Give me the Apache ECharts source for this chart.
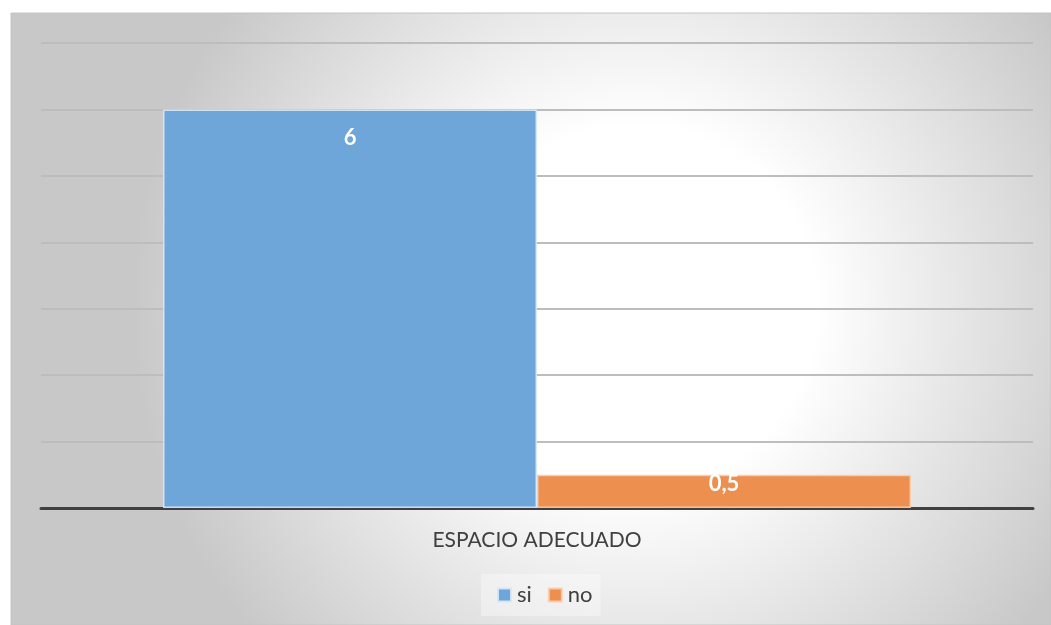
<!DOCTYPE html>
<html>
<head>
<meta charset="utf-8">
<script src="https://cdn.jsdelivr.net/npm/echarts@6/dist/echarts.min.js"></script>
<style>
  html, body { margin: 0; padding: 0; background: #ffffff; }
  #chart { width: 1051px; height: 625px; }
</style>
</head>
<body>
<div id="chart"></div>
<script>
// Survey result: adequate space (si / no)
const categories = ['ESPACIO ADECUADO'];
const seriesNames = ['si', 'no'];
const siValues = [6];
const noValues = [0.5];
const yTicks = [0, 1, 2, 3, 4, 5, 6, 7];

const fontFamily = 'Lato, "Open Sans", "Liberation Sans", sans-serif';
const fmt = v => String(v).replace('.', ',');

const chart = echarts.init(document.getElementById('chart'), null, { renderer: 'canvas' });

chart.setOption({
  animation: false,
  graphic: [{
    type: 'rect',
    z: -10,
    silent: true,
    shape: { x: 11, y: 13, width: 1040, height: 612 },
    style: {
      fill: {
        type: 'radial',
        x: 0.6, y: 0.48, r: 0.82,
        colorStops: [
          { offset: 0, color: '#ffffff' },
          { offset: 0.36, color: '#ffffff' },
          { offset: 1, color: '#c8c8c8' }
        ]
      },
      stroke: '#c4c4c4',
      lineWidth: 1
    }
  }],
  grid: { left: 41, right: 18, top: 43, bottom: 117, containLabel: false },
  legend: {
    data: seriesNames,
    bottom: 9,
    left: 481,
    icon: 'rect',
    itemWidth: 13,
    itemHeight: 13,
    itemGap: 16,
    padding: [10, 8, 10, 16],
    backgroundColor: 'rgba(255,255,255,0.35)',
    textStyle: { color: '#404040', fontSize: 22, fontFamily: fontFamily, padding: [0, 0, 0, 1] }
  },
  xAxis: {
    type: 'category',
    data: categories,
    axisLine: { show: true, lineStyle: { color: '#404040', width: 3 } },
    axisTick: { show: false },
    axisLabel: { color: '#404040', fontSize: 21, fontFamily: fontFamily, margin: 22 },
    splitLine: { show: false }
  },
  yAxis: {
    type: 'value',
    min: yTicks[0],
    max: yTicks[yTicks.length - 1],
    interval: 1,
    axisLine: { show: false },
    axisTick: { show: false },
    axisLabel: { show: false },
    splitLine: { show: true, lineStyle: { color: '#bdbdbd', width: 2 } }
  },
  series: [
    {
      name: seriesNames[0],
      type: 'bar',
      data: siValues,
      barGap: '0%',
      barCategoryGap: '24.6%',
      itemStyle: { color: '#6fa6d9', borderColor: 'rgba(215,232,248,0.9)', borderWidth: 1.5 },
      label: {
        show: true, position: 'insideTop', distance: 17,
        color: '#ffffff', fontWeight: 'bold', fontSize: 22, fontFamily: fontFamily,
        formatter: p => fmt(p.value)
      }
    },
    {
      name: seriesNames[1],
      type: 'bar',
      data: noValues,
      barGap: '0%',
      barCategoryGap: '24.6%',
      itemStyle: { color: '#ed8f4f', borderColor: 'rgba(250,205,175,0.9)', borderWidth: 1.5 },
      label: {
        show: true, position: 'insideTop', distance: -2,
        color: '#ffffff', fontWeight: 'bold', fontSize: 22, fontFamily: fontFamily,
        formatter: p => fmt(p.value)
      }
    }
  ]
});
</script>
</body>
</html>
